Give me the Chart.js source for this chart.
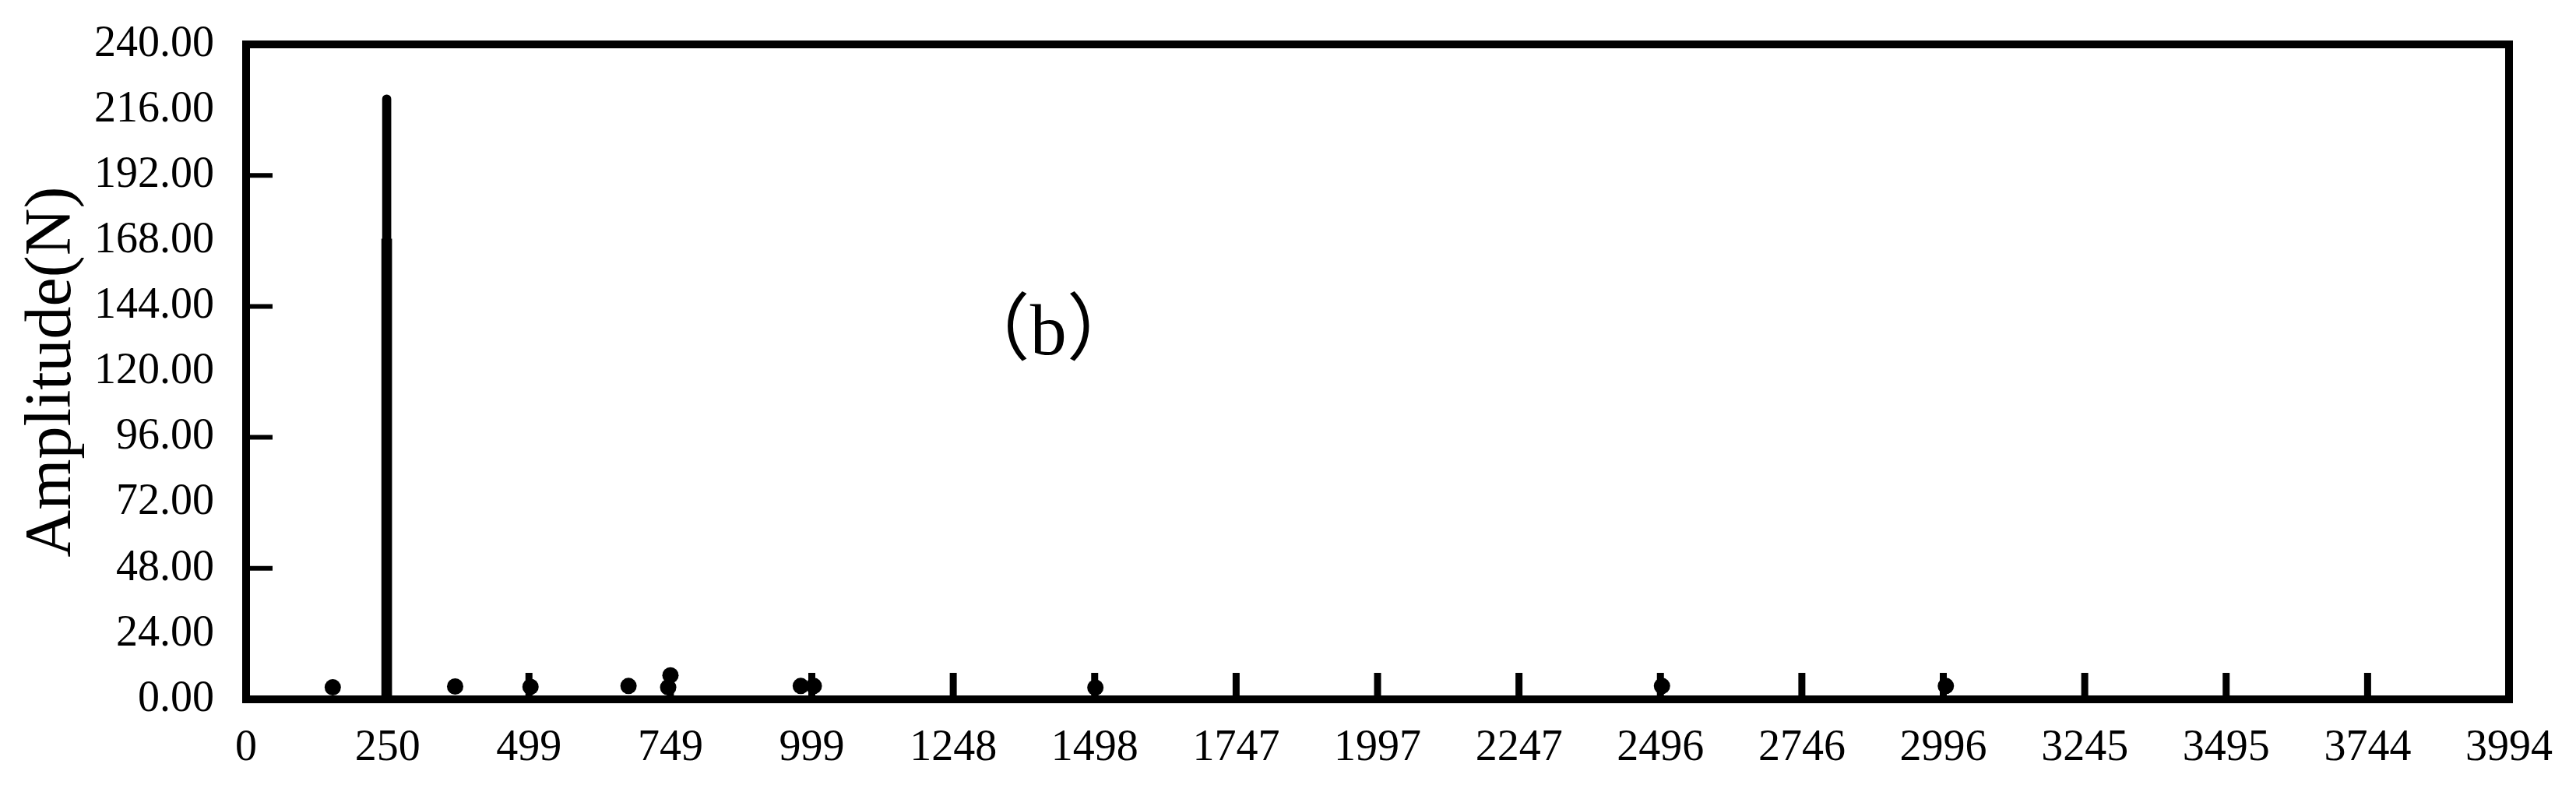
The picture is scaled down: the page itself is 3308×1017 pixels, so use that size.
<!DOCTYPE html>
<html>
<head>
<meta charset="utf-8">
<script src="https://cdn.jsdelivr.net/npm/chart.js@4.4.1/dist/chart.umd.min.js"></script>
<style>
  body { margin: 0; background: #fff; }
  canvas { display: block; }
</style>
</head>
<body>
<canvas id="grafico" width="3308" height="1017"></canvas>
<script>
var picoFrec = [248.2, 248.2];
var picoAmp = [221.5, 168.7];
var puntoFrec = [153, 369, 502, 675, 749, 745, 979, 1002, 1499, 2499, 3000];
var puntoAmp = [4.4, 4.7, 4.6, 4.9, 8.8, 4.4, 4.9, 4.9, 4.3, 4.9, 4.9];

var etiquetasX = ['0', '250', '499', '749', '999', '1248', '1498', '1747', '1997',
                  '2247', '2496', '2746', '2996', '3245', '3495', '3744', '3994'];
var etiquetasY = ['0.00', '24.00', '48.00', '72.00', '96.00', '120.00',
                  '144.00', '168.00', '192.00', '216.00', '240.00'];
var xMax = 3994;
var yMax = 240;

var fuente = '"Liberation Serif", "Times New Roman", serif';

// marco, marcas hacia dentro y la etiqueta (b)
var marco = {
    id: 'marco',
    afterDatasetsDraw: function(chart) {
        var ctx = chart.ctx;
        var a = chart.chartArea;
        var sx = chart.scales.x, sy = chart.scales.y;
        ctx.save();
        ctx.strokeStyle = '#000';
        ctx.lineCap = 'butt';
        // marcas eje x
        ctx.lineWidth = 9;
        sx.ticks.forEach(function(t, i) {
            if (i === 0 || i === sx.ticks.length - 1) return;
            var px = sx.getPixelForValue(t.value);
            ctx.beginPath();
            ctx.moveTo(px, a.bottom);
            ctx.lineTo(px, a.bottom - 34);
            ctx.stroke();
        });
        // marcas eje y (cada 48)
        ctx.lineWidth = 6;
        sy.ticks.forEach(function(t, i) {
            if (i === 0 || i === sy.ticks.length - 1 || i % 2 === 1) return;
            var py = sy.getPixelForValue(t.value);
            ctx.beginPath();
            ctx.moveTo(a.left, py);
            ctx.lineTo(a.left + 34, py);
            ctx.stroke();
        });
        ctx.lineWidth = 10;
        ctx.strokeRect(a.left, a.top, a.right - a.left, a.bottom - a.top);

        ctx.fillStyle = '#000';
        ctx.font = '94px "Liberation Serif", "Noto Sans CJK SC", serif';
        ctx.textAlign = 'center';
        ctx.textBaseline = 'middle';
        ctx.fillText('（b）', sx.getPixelForValue(1416), sy.getPixelForValue(133.6));
        ctx.restore();
    }
};

var ctx = document.getElementById('grafico').getContext('2d');
var grafico = new Chart(ctx, {
    type: 'bar',
    data: {
        datasets: [{
            type: 'bar',
            data: [{x: picoFrec[0], y: picoAmp[0]}],
            backgroundColor: '#000',
            barThickness: 11,
            borderRadius: {topLeft: 6, topRight: 6, bottomLeft: 0, bottomRight: 0},
            borderSkipped: 'bottom',
            grouped: false
        }, {
            type: 'bar',
            data: [{x: picoFrec[1], y: picoAmp[1]}],
            backgroundColor: '#000',
            barThickness: 13,
            grouped: false
        }, {
            type: 'scatter',
            data: puntoFrec.map(function(f, i) { return {x: f, y: puntoAmp[i]}; }),
            backgroundColor: '#000',
            borderColor: '#000',
            pointRadius: 10.5,
            pointBorderWidth: 0,
            showLine: false
        }]
    },
    options: {
        responsive: false,
        devicePixelRatio: 1,
        animation: false,
        layout: { padding: { top: 57, right: 85, left: 0, bottom: 0 } },
        plugins: { legend: { display: false }, tooltip: { enabled: false } },
        scales: {
            x: {
                type: 'linear',
                min: 0,
                max: xMax,
                offset: false,
                afterFit: function(s) { s.height = 119; },
                afterBuildTicks: function(s) {
                    s.ticks = etiquetasX.map(function(l, i) { return {value: i * xMax / 16}; });
                },
                ticks: {
                    autoSkip: false,
                    maxRotation: 0,
                    padding: 30,
                    color: '#000',
                    font: { family: fuente, size: 56 },
                    callback: function(v, i) { return etiquetasX[i]; }
                },
                grid: { display: false, drawTicks: false },
                border: { display: false }
            },
            y: {
                min: 0,
                max: yMax,
                afterFit: function(s) {
                    s.width = 316;
                    s.paddingTop = 0;
                    s.paddingBottom = 0;
                },
                afterBuildTicks: function(s) {
                    s.ticks = etiquetasY.map(function(l, i) { return {value: i * 24}; });
                },
                ticks: {
                    autoSkip: false,
                    padding: 41,
                    color: '#000',
                    font: { family: fuente, size: 56 },
                    callback: function(v, i) { return etiquetasY[i]; }
                },
                grid: { display: false, drawTicks: false },
                border: { display: false },
                title: {
                    display: true,
                    text: 'Amplitude(N)',
                    color: '#000',
                    font: { family: fuente, size: 84 },
                    padding: { top: 18, bottom: 0 }
                }
            }
        }
    },
    plugins: [marco]
});
</script>
</body>
</html>
